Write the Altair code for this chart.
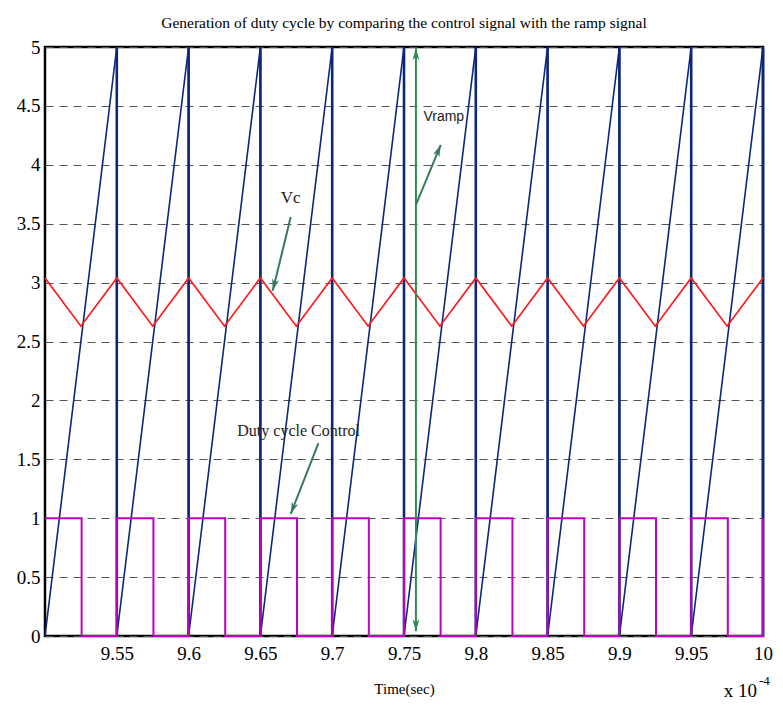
import altair as alt
import pandas as pd

# ---- data (x in units of 1e-4 s) ----
ramp_t = [9.50, 9.55, 9.55, 9.60, 9.60, 9.65, 9.65, 9.70, 9.70, 9.75, 9.75,
          9.80, 9.80, 9.85, 9.85, 9.90, 9.90, 9.95, 9.95, 10.00, 10.00]
ramp_v = [0, 5, 0, 5, 0, 5, 0, 5, 0, 5, 0, 5, 0, 5, 0, 5, 0, 5, 0, 5, 0]

reset_t = [9.55, 9.60, 9.65, 9.70, 9.75, 9.80, 9.85, 9.90, 9.95, 10.00]
reset_lo = [0] * 10
reset_hi = [5] * 10

vc_t = [9.500, 9.525, 9.550, 9.575, 9.600, 9.625, 9.650, 9.675, 9.700, 9.725, 9.750,
        9.775, 9.800, 9.825, 9.850, 9.875, 9.900, 9.925, 9.950, 9.975, 10.000]
vc_v = [3.04, 2.63, 3.04, 2.63, 3.04, 2.63, 3.04, 2.63, 3.04, 2.63, 3.04,
        2.63, 3.04, 2.63, 3.04, 2.63, 3.04, 2.63, 3.04, 2.63, 3.04]

duty_t = [9.5000, 9.5255, 9.5255, 9.5500, 9.5500, 9.5755, 9.5755, 9.6000,
          9.6000, 9.6255, 9.6255, 9.6500, 9.6500, 9.6755, 9.6755, 9.7000,
          9.7000, 9.7255, 9.7255, 9.7500, 9.7500, 9.7755, 9.7755, 9.8000,
          9.8000, 9.8255, 9.8255, 9.8500, 9.8500, 9.8755, 9.8755, 9.9000,
          9.9000, 9.9255, 9.9255, 9.9500, 9.9500, 9.9755, 9.9755, 10.0000,
          10.0000]
duty_v = [1, 1, 0, 0, 1, 1, 0, 0, 1, 1, 0, 0, 1, 1, 0, 0, 1, 1, 0, 0,
          1, 1, 0, 0, 1, 1, 0, 0, 1, 1, 0, 0, 1, 1, 0, 0, 1, 1, 0, 0, 1]

x_ticks = [9.55, 9.6, 9.65, 9.7, 9.75, 9.8, 9.85, 9.9, 9.95, 10]
y_ticks = [0, 0.5, 1, 1.5, 2, 2.5, 3, 3.5, 4, 4.5, 5]

# annotation arrows: tail (x, y) -> head (x2, y2)
arrow_x = [9.6711, 9.6904, 9.7583]
arrow_y = [3.557, 1.638, 3.66]
arrow_x2 = [9.6586, 9.6711, 9.7756]
arrow_y2 = [2.93, 1.036, 4.17]
arrow_angle = [193.7, 201.5, 22.6]

label_text = ["Vc", "Duty cycle Control"]
label_x = [9.6711, 9.6766]
label_y = [3.72, 1.74]
label_size = [17, 16]

vramp_text = ["Vramp"]
vramp_x = [9.7777]
vramp_y = [4.41]

# vertical double arrow
dbl_x = [9.7583]
dbl_y = [0.04]
dbl_y2 = [4.99]

serif = "Liberation Serif"
sans = "Liberation Sans"

xs = alt.Scale(domain=[9.5, 10], nice=False, zero=False)
ys = alt.Scale(domain=[0, 5], nice=False)

ramp = pd.DataFrame({"t": ramp_t, "v": ramp_v, "i": range(len(ramp_t))})
resets = pd.DataFrame({"t": reset_t, "lo": reset_lo, "hi": reset_hi})
vc = pd.DataFrame({"t": vc_t, "v": vc_v, "i": range(len(vc_t))})
duty = pd.DataFrame({"t": duty_t, "v": duty_v, "i": range(len(duty_t))})

X = alt.X("t:Q", scale=xs, axis=alt.Axis(
    values=x_ticks, format="~g", title="Time(sec)", grid=False,
    labelFont=serif, labelFontSize=19, labelColor="black", labelPadding=8,
    titleFont=serif, titleFontSize=15, titleFontWeight="normal", titleColor="black",
    titlePadding=18, domain=False, ticks=False, labelFlush=False))
Y = alt.Y("v:Q", scale=ys, axis=alt.Axis(
    values=y_ticks, format="~g", title=None, grid=True,
    gridDash=[8, 6], gridColor="#555555", gridWidth=1,
    labelFont=serif, labelFontSize=19, labelColor="black", labelPadding=5,
    domain=False, ticks=False))

base_ramp = alt.Chart(ramp).mark_line(color="#0B2878", strokeWidth=1.6).encode(
    x=X, y=Y, order="i:Q")
reset_rules = alt.Chart(resets).mark_rule(color="#0B2878", strokeWidth=2.6).encode(
    x="t:Q", y="lo:Q", y2="hi:Q")
base_vc = alt.Chart(vc).mark_line(color="#FF1A1A", strokeWidth=1.7).encode(
    x="t:Q", y="v:Q", order="i:Q")
base_duty = alt.Chart(duty).mark_line(color="#C000C0", strokeWidth=2).encode(
    x="t:Q", y="v:Q", order="i:Q")

arrows = pd.DataFrame({"x": arrow_x, "y": arrow_y, "x2": arrow_x2, "y2": arrow_y2,
                       "a": arrow_angle})
arrow_lines = alt.Chart(arrows).mark_rule(color="#3A7A5C", strokeWidth=2).encode(
    x="x:Q", y="y:Q", x2="x2:Q", y2="y2:Q")
head_path = "M0,0L0.55,1.9L0,1.35L-0.55,1.9Z"
arrow_heads = alt.Chart(arrows).mark_point(
    shape=head_path, filled=True, color="#3A7A5C", opacity=1, size=160).encode(
    x="x2:Q", y="y2:Q", angle=alt.Angle("a:Q", scale=None))

dbl = pd.DataFrame({"x": dbl_x, "y": dbl_y, "y2": dbl_y2})
dbl_line = alt.Chart(dbl).mark_rule(color="#2E8B57", strokeWidth=2).encode(
    x="x:Q", y="y:Q", y2="y2:Q")
dbl_heads_df = pd.DataFrame({"x": dbl_x * 2, "y": dbl_y + dbl_y2, "a": [180, 0]})
dbl_heads = alt.Chart(dbl_heads_df).mark_point(
    shape=head_path, filled=True, color="#2E8B57", opacity=1, size=160).encode(
    x="x:Q", y="y:Q", angle=alt.Angle("a:Q", scale=None))

labels = pd.DataFrame({"x": label_x, "y": label_y, "text": label_text, "s": label_size})
label_marks = alt.Chart(labels).mark_text(
    font=serif, color="#222222", align="center", baseline="middle").encode(
    x="x:Q", y="y:Q", text="text:N", size=alt.Size("s:Q", scale=None, legend=None))

vr = pd.DataFrame({"x": vramp_x, "y": vramp_y, "text": vramp_text})
vramp_mark = alt.Chart(vr).mark_text(
    font=sans, fontSize=14, color="#222222", align="center", baseline="middle").encode(
    x="x:Q", y="y:Q", text="text:N")

exp_main = alt.Chart(pd.DataFrame({"text": ["x 10"]})).mark_text(
    font=serif, fontSize=19, color="black", align="right", baseline="alphabetic").encode(
    x=alt.value(712), y=alt.value(650), text="text:N")
exp_sup = alt.Chart(pd.DataFrame({"text": ["-4"]})).mark_text(
    font=serif, fontSize=13, color="black", align="left", baseline="alphabetic").encode(
    x=alt.value(714), y=alt.value(638), text="text:N")

chart = alt.layer(
    base_ramp, reset_rules, base_vc, base_duty, dbl_line, dbl_heads, arrow_lines,
    arrow_heads, label_marks, vramp_mark, exp_main, exp_sup
).properties(
    width=718, height=589,
    title=alt.TitleParams(
        "Generation of duty cycle by comparing the control signal with the ramp signal",
        font=serif, fontSize=15.5, fontWeight="normal", color="black",
        anchor="middle", offset=7),
    padding={"left": 37, "top": 39, "right": 12, "bottom": 64},
    autosize=alt.AutoSizeParams(type="none"),
).configure_view(stroke="black", strokeWidth=2.5)

chart.save("out.html", embed_options={"renderer": "svg", "actions": False})
